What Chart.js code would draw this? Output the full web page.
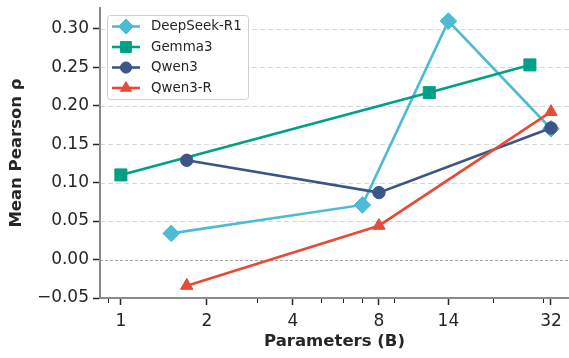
<!DOCTYPE html>
<html><head><meta charset="utf-8">
<script src="https://cdn.jsdelivr.net/npm/chart.js@4"></script>
<style>html,body{margin:0;padding:0;background:#fff}</style>
</head><body>
<canvas id="c" width="569" height="358"></canvas>
<script>
const seriesNames = ['DeepSeek-R1', 'Gemma3', 'Qwen3', 'Qwen3-R'];
const deepseekX = [1.5, 7, 14, 32];
const deepseekY = [0.034, 0.071, 0.310, 0.170];
const gemmaX = [1, 12, 27];
const gemmaY = [0.110, 0.217, 0.253];
const qwenX = [1.7, 8, 32];
const qwenY = [0.129, 0.087, 0.171];
const qwenRX = [1.7, 8, 32];
const qwenRY = [-0.034, 0.044, 0.192];
const xTickValues = [1, 2, 4, 8, 14, 32];
const xTickLabels = ['1', '2', '4', '8', '14', '32'];
const xMinorTicks = [0.9, 3, 5, 6, 7, 9, 20, 30];
const yTickValues = [-0.05, 0, 0.05, 0.10, 0.15, 0.20, 0.25, 0.30];

const colors = ['#4DBBD5', '#00A087', '#3C5488', '#E64B35'];
const styles = ['rectRot', 'rect', 'circle', 'triangle'];
const radii = [8.3, 8.5, 6.2, 7.2];
const xs = [deepseekX, gemmaX, qwenX, qwenRX];
const ys = [deepseekY, gemmaY, qwenY, qwenRY];
const FONT = "'DejaVu Sans', sans-serif";
const TXT = '#262626';

function pts(xa, ya) { return xa.map((x, i) => ({x: x, y: ya[i]})); }

const datasets = seriesNames.map((n, i) => ({
  label: n,
  data: pts(xs[i], ys[i]),
  borderColor: colors[i],
  backgroundColor: colors[i],
  borderWidth: 2.6,
  pointStyle: styles[i],
  pointRadius: radii[i],
  pointHoverRadius: radii[i],
  pointBorderWidth: 1,
  pointBorderColor: colors[i],
  pointBackgroundColor: colors[i],
  tension: 0,
  clip: false,
  order: 3 - i
}));

function drawMarker(ctx, style, x, y, r, color) {
  ctx.save();
  ctx.fillStyle = color; ctx.strokeStyle = color; ctx.lineWidth = 1;
  ctx.beginPath();
  if (style === 'rectRot') {
    ctx.moveTo(x, y - r); ctx.lineTo(x + r, y); ctx.lineTo(x, y + r); ctx.lineTo(x - r, y); ctx.closePath();
  } else if (style === 'rect') {
    const s = r * Math.SQRT1_2; ctx.rect(x - s, y - s, 2 * s, 2 * s);
  } else if (style === 'circle') {
    ctx.arc(x, y, r, 0, Math.PI * 2);
  } else {
    for (let k = 0; k < 3; k++) {
      const a = -Math.PI / 2 + k * 2 * Math.PI / 3;
      const px = x + Math.cos(a) * r, py = y + Math.sin(a) * r;
      if (k === 0) ctx.moveTo(px, py); else ctx.lineTo(px, py);
    }
    ctx.closePath();
  }
  ctx.fill(); ctx.stroke();
  ctx.restore();
}

const deco = {
  id: 'deco',
  beforeDraw(chart) {
    const {ctx, chartArea: a, scales: {y}} = chart;
    ctx.save();
    yTickValues.forEach(v => {
      const py = Math.round(y.getPixelForValue(v)) + 0.5;
      ctx.beginPath();
      if (v === 0) { ctx.strokeStyle = '#a8a8a8'; ctx.lineWidth = 1; ctx.setLineDash([3, 2]); }
      else { ctx.strokeStyle = '#d6d6d6'; ctx.lineWidth = 1.2; ctx.setLineDash([5, 3]); }
      ctx.moveTo(a.left, py); ctx.lineTo(a.right, py); ctx.stroke();
    });
    ctx.restore();
  },
  afterDraw(chart) {
    const {ctx, chartArea: a, scales: {x}} = chart;
    ctx.save();
    ctx.strokeStyle = TXT; ctx.lineWidth = 1;
    xMinorTicks.forEach(v => {
      const px = Math.round(x.getPixelForValue(v)) + 0.5;
      ctx.beginPath(); ctx.moveTo(px, a.bottom + 1); ctx.lineTo(px, a.bottom + 5); ctx.stroke();
    });
    // legend
    const bx = 107.5, by = 15.5, bw = 141, bh = 84;
    ctx.beginPath();
    ctx.fillStyle = 'rgba(255,255,255,0.85)';
    ctx.strokeStyle = '#d0d0d0'; ctx.lineWidth = 1;
    if (ctx.roundRect) ctx.roundRect(bx, by, bw, bh, 3); else ctx.rect(bx, by, bw, bh);
    ctx.fill(); ctx.stroke();
    ctx.font = "13.4px " + FONT;
    ctx.textBaseline = 'middle'; ctx.textAlign = 'left';
    seriesNames.forEach((n, i) => {
      const ly = 26.5 + i * 20.5;
      ctx.beginPath(); ctx.strokeStyle = colors[i]; ctx.lineWidth = 2.6;
      ctx.moveTo(112, ly); ctx.lineTo(140, ly); ctx.stroke();
      drawMarker(ctx, styles[i], 126, ly, radii[i] * 0.9, colors[i]);
      ctx.fillStyle = TXT;
      ctx.fillText(n, 151, ly + 0.5);
    });
    ctx.restore();
  }
};

new Chart(document.getElementById('c'), {
  type: 'line',
  data: {datasets: datasets},
  options: {
    responsive: false,
    animation: false,
    devicePixelRatio: 1,
    layout: {autoPadding: false, padding: {top: 8, right: 0, left: 0, bottom: 0}},
    plugins: {legend: {display: false}, tooltip: {enabled: false}},
    scales: {
      x: {
        type: 'logarithmic',
        min: 0.845,
        max: 37,
        afterBuildTicks: s => { s.ticks = xTickValues.map(v => ({value: v})); },
        afterFit: s => { s.height = 60; s.paddingLeft = 0; s.paddingRight = 0; },
        ticks: {
          autoSkip: false, maxRotation: 0, color: TXT, padding: 6,
          font: {family: FONT, size: 17},
          callback: v => { const i = xTickValues.indexOf(v); return i >= 0 ? xTickLabels[i] : ''; }
        },
        grid: {display: true, drawOnChartArea: false, drawTicks: true, tickLength: 7, tickColor: TXT, tickWidth: 1.5},
        border: {display: true, color: '#8a8a8a', width: 2},
        title: {display: true, text: 'Parameters (B)', color: TXT, padding: 6,
          font: {family: FONT, size: 16.5, weight: 'bold'}}
      },
      y: {
        type: 'linear',
        min: -0.05,
        max: 0.327,
        afterBuildTicks: s => { s.ticks = yTickValues.map(v => ({value: v})); },
        afterFit: s => { s.width = 100; s.paddingTop = 0; s.paddingBottom = 0; },
        ticks: {
          color: TXT, padding: 4,
          font: {family: FONT, size: 17},
          callback: v => v.toFixed(2).replace('-', '\u2212')
        },
        grid: {display: true, drawOnChartArea: false, drawTicks: true, tickLength: 7, tickColor: TXT, tickWidth: 1.5},
        border: {display: true, color: '#8a8a8a', width: 2},
        title: {display: true, text: 'Mean Pearson \u03c1', color: TXT, padding: 7,
          font: {family: FONT, size: 16.5, weight: 'bold'}}
      }
    }
  },
  plugins: [deco]
});
</script>
</body></html>
